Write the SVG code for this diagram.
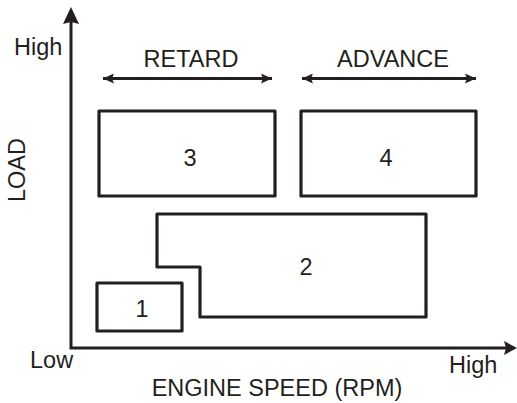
<svg xmlns="http://www.w3.org/2000/svg" width="517" height="403" viewBox="0 0 517 403">
<style>
text{font-family:"Liberation Sans",Arial,sans-serif;font-size:23.5px;fill:#231f20}
.box{fill:none;stroke:#231f20;stroke-width:3.2;stroke-linejoin:round}
.ax{stroke:#231f20;stroke-width:3;fill:none}
.hd{fill:#231f20}
</style>
<defs>
<marker id="ah" viewBox="0 0 11 10" refX="11" refY="5" markerWidth="11" markerHeight="10" markerUnits="userSpaceOnUse" orient="auto-start-reverse">
<path d="M0,0 L11,5 L0,10 L2,5 Z" class="hd"/>
</marker>
</defs>
<rect width="517" height="403" fill="#fff"/>
<g id="axes">
<path class="ax" d="M71,22 V348 H506"/>
<path class="hd" d="M71,7 L79,24 L71,22 L63,24 Z"/>
<path class="hd" d="M517,348 L504,355 L506,348 L504,341 Z"/>
<text x="14" y="55">High</text>
<text x="30" y="368">Low</text>
<text x="449" y="373">High</text>
<text x="277" y="396" text-anchor="middle">ENGINE SPEED (RPM)</text>
<text transform="translate(25,170) rotate(-90)" text-anchor="middle">LOAD</text>
</g>
<g id="connectors">
<line class="ax" x1="103" y1="78.5" x2="272" y2="78.5" marker-start="url(#ah)" marker-end="url(#ah)"/>
<line class="ax" x1="302" y1="78.5" x2="476" y2="78.5" marker-start="url(#ah)" marker-end="url(#ah)"/>
<text x="191" y="67" text-anchor="middle">RETARD</text>
<text x="393" y="67" text-anchor="middle">ADVANCE</text>
</g>
<g id="node3">
<rect class="box" x="99" y="111" width="176" height="85"/>
<text x="190" y="166" text-anchor="middle">3</text>
</g>
<g id="node4">
<rect class="box" x="301" y="111" width="175" height="85"/>
<text x="386" y="166" text-anchor="middle">4</text>
</g>
<g id="node2">
<path class="box" d="M157,214 H426 V317 H200 V267 H157 Z"/>
<text x="306" y="275" text-anchor="middle">2</text>
</g>
<g id="node1">
<rect class="box" x="97" y="283" width="85" height="48"/>
<text x="142" y="317" text-anchor="middle">1</text>
</g>
</svg>
